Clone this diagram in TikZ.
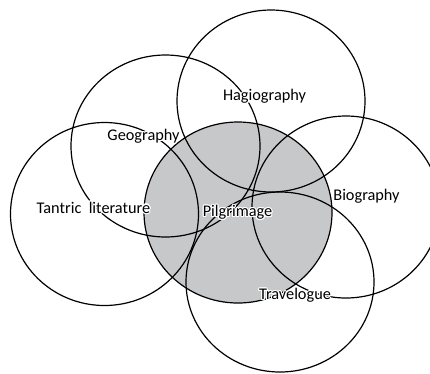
\documentclass[tikz,border=0pt]{standalone}
\usepackage{fontspec}
\setmainfont{Carlito}
\usepackage{contour}
\contourlength{1.1pt}
\contournumber{12}
\usetikzlibrary{positioning}
\definecolor{pilgrey}{RGB}{199,200,202}

\begin{document}
\begin{tikzpicture}[x=1pt, y=-1pt,
		every node/.style={font=\fontsize{16.3}{19}\selectfont, inner sep=0pt},
		setline/.style={draw=black, line width=1.2pt}]
	\useasboundingbox (0,0) rectangle (430,373);
	\clip (0,0) rectangle (430,373);

	% the shaded set first, the rims on top
	\fill[pilgrey] (238,212.5) ellipse [x radius=94, y radius=90.5];

	\draw[setline] (271,101) ellipse [x radius=94, y radius=91];
	\draw[setline] (165.5,146) ellipse [x radius=94.5, y radius=91];
	\draw[setline] (104.5,214) ellipse [x radius=94, y radius=91.5];
	\draw[setline] (238,212.5) ellipse [x radius=94, y radius=90.5];
	\draw[setline] (346,207) ellipse [x radius=94, y radius=91];
	\draw[setline] (280,282) ellipse [x radius=94, y radius=90];

	\node (hagio)   at (264.5,97)  {\contour{white}{Hagiography}};
	\node (geo)     at (143.5,137) {\contour{white}{Geography}};
	\node (tantric) at (93.5,208)  {\contour{white}{Tantric~ literature}};
	\node (pilgr)   at (237.5,213) {\contour{white}{Pilgrimage}};
	\node (bio)     at (366.5,197) {\contour{white}{Biography}};
	\node (travel)  at (295,296)   {\contour{white}{Travelogue}};
\end{tikzpicture}
\end{document}
